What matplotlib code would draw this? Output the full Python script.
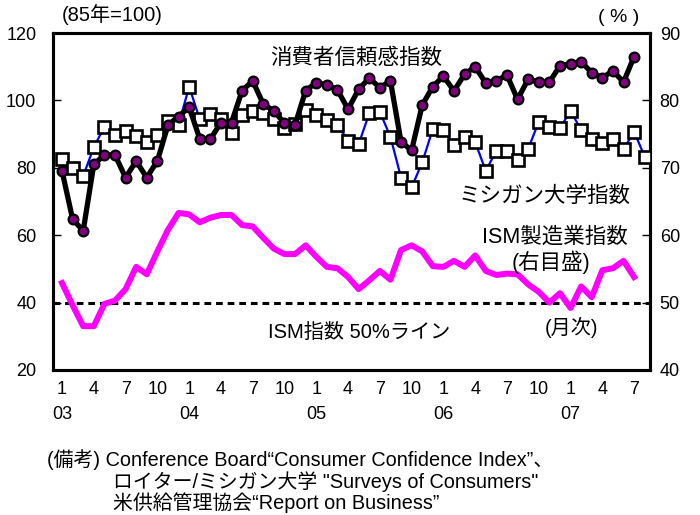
#!/usr/bin/env python3
"""
US consumer confidence, Michigan sentiment and ISM manufacturing index,
Jan 2003 - Aug 2007 (monthly).
"""

import matplotlib
matplotlib.use("Agg")
import matplotlib.pyplot as plt

plt.rcParams['font.family'] = ['Liberation Sans', 'Noto Sans CJK JP', 'DejaVu Sans']

# Data, month 0 = Jan 2003
consumer_conf = [79.1, 64.8, 61.3, 81.0, 83.8, 83.8, 77.1, 82.0, 77.1, 82.0, 92.7, 95.2,
                 98.0, 88.6, 88.5, 93.4, 93.4, 102.9, 105.8, 98.9, 96.9, 93.2, 92.8, 102.9,
                 105.3, 104.6, 103.1, 97.4, 103.3, 106.6, 103.8, 105.8, 87.7, 85.2, 98.6, 104.1,
                 107.2, 102.8, 107.8, 110.0, 105.1, 105.8, 107.5, 100.3, 106.3, 105.4, 105.4, 110.3,
                 110.8, 111.5, 108.2, 106.7, 108.8, 105.4, 113.0]

michigan = [82.5, 80.0, 77.6, 86.1, 92.2, 89.7, 91.0, 89.4, 87.7, 89.7, 93.9, 92.7,
            104.1, 94.4, 96.0, 94.4, 90.2, 95.7, 96.9, 96.2, 94.4, 91.7, 93.0, 97.2,
            95.7, 94.2, 92.7, 88.0, 87.0, 96.2, 96.6, 89.2, 77.1, 74.2, 81.6, 91.5,
            91.2, 86.8, 89.1, 87.6, 79.1, 85.1, 85.1, 82.3, 85.6, 93.7, 92.2, 91.7,
            96.9, 91.2, 88.5, 87.3, 88.5, 85.5, 90.7, 83.3]

ism = [52.9, 49.6, 46.5, 46.5, 49.8, 50.3, 52.0, 55.3, 54.2, 57.6, 60.8, 63.3,
       63.1, 61.9, 62.6, 63.0, 63.0, 61.5, 61.3, 59.6, 58.0, 57.2, 57.2, 58.5,
       56.8, 55.3, 55.1, 53.8, 52.0, 53.3, 54.7, 53.4, 57.8, 58.5, 57.6, 55.4,
       55.3, 56.2, 55.3, 57.0, 54.7, 54.1, 54.3, 54.2, 52.7, 51.6, 50.0, 51.4,
       49.2, 52.4, 50.8, 54.8, 55.1, 56.2, 53.8]

tick_months = list(range(0, 55, 3))
tick_labels = ["1\n03", "4", "7", "10", "1\n04", "4", "7", "10", "1\n05", "4", "7", "10",
               "1\n06", "4", "7", "10", "1\n07", "4", "7"]

notes = ["(備考) Conference Board“Consumer Confidence Index”、",
         "ロイター/ミシガン大学 \"Surveys of Consumers\"",
         "米供給管理協会“Report on Business”"]

fig = plt.figure(figsize=(7.0, 5.15), dpi=100)
ax = fig.add_axes([53 / 700, 1 - 370 / 515, 597 / 700, 337 / 515])
ax2 = ax.twinx()
# left-scale axes drawn on top of the right-scale one
ax.set_zorder(ax2.get_zorder() + 1)
ax.patch.set_visible(False)

# ISM on the right scale
ax2.plot(range(len(ism)), ism, color='#ff00ff', linewidth=4.3, zorder=2)
ax2.axhline(50, color='black', linestyle=(0, (2.2, 1.6)), linewidth=2.2, zorder=1)

# Michigan and Conference Board on the left scale
ax.plot(range(len(michigan)), michigan, color='#0000ff', linewidth=1.6,
        marker='s', markersize=8.5, markerfacecolor='white', markeredgecolor='black',
        markeredgewidth=1.9, zorder=3)
ax.plot(range(len(consumer_conf)), consumer_conf, color='black',
        linewidth=3.8, marker='o', markersize=7, markerfacecolor='#800080',
        markeredgecolor='black', markeredgewidth=1.6, zorder=4)

ax.set_xlim(-0.85, 55.5)
ax.set_ylim(20, 120)
ax2.set_ylim(40, 90)
ax.set_yticks(range(20, 121, 20))
ax2.set_yticks(range(40, 91, 10))
ax.set_xticks(tick_months)
ax.set_xticklabels(tick_labels, fontsize=13, linespacing=1.6, va='top')

ax.tick_params(axis='x', length=0, pad=8)
ax.tick_params(axis='y', direction='in', length=6, width=1, labelsize=13, pad=12)
ax2.tick_params(axis='y', direction='in', length=6, width=1, labelsize=13, pad=7)
for label in ax2.get_yticklabels():
    label.set_horizontalalignment('left')

for spine in list(ax.spines.values()) + list(ax2.spines.values()):
    spine.set_linewidth(2.2)

# Annotations (left-scale coordinates)
ax.text(27.8, 112.6, "消費者信頼感指数", fontsize=15.5, ha='center', va='center', zorder=6)
ax.text(45.6, 71.6, "ミシガン大学指数", fontsize=15.5, ha='center', va='center', zorder=6)
ax.text(46.5, 59.5, "ISM製造業指数", fontsize=15.5, ha='center', va='center', zorder=6)
ax.text(46.2, 52.0, "(右目盛)", fontsize=15.5, ha='center', va='center', zorder=6)
ax.text(28.0, 31.0, "ISM指数 50%ライン", fontsize=14.5, ha='center', va='center', zorder=6)
ax.text(48.1, 32.5, "(月次)", fontsize=14.5, ha='center', va='center', zorder=6)

fig.text(62 / 700, 1 - 15 / 515, "(85年=100)", fontsize=14.5, ha='left', va='center')
fig.text(619 / 700, 1 - 17 / 515, "( % )", fontsize=14, ha='center', va='center')

fig.text(47 / 700, 1 - 460 / 515, notes[0], fontsize=14.3, ha='left', va='center')
fig.text(113 / 700, 1 - 482 / 515, notes[1], fontsize=14.3, ha='left', va='center')
fig.text(113 / 700, 1 - 503 / 515, notes[2], fontsize=14.3, ha='left', va='center')

fig.savefig("out.png", dpi=100)
